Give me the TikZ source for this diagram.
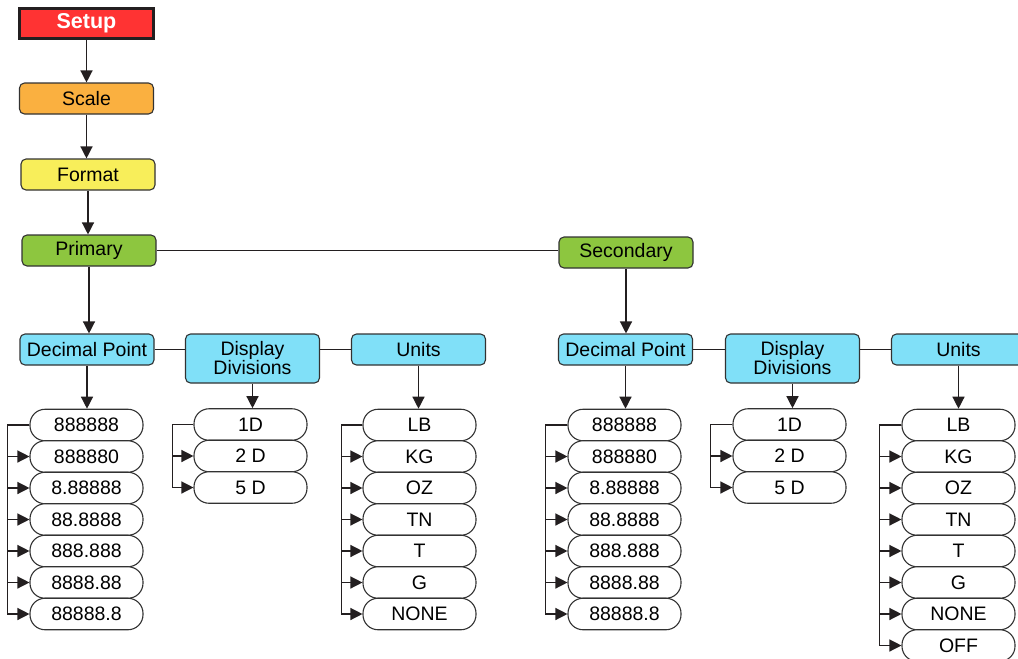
\documentclass[tikz,border=0pt]{standalone}
\usepackage{fontspec}
\setmainfont{Liberation Sans}
\usetikzlibrary{arrows.meta}
\definecolor{setupred}{RGB}{255,51,51}
\definecolor{scaleorange}{RGB}{250,176,64}
\definecolor{formatyellow}{RGB}{248,238,90}
\definecolor{leafgreen}{RGB}{141,198,63}
\definecolor{skycyan}{RGB}{128,224,248}
\definecolor{linegray}{RGB}{35,31,32}
\definecolor{boxgray}{RGB}{50,50,50}
\begin{document}
\begin{tikzpicture}[x=1pt,y=-1pt,
  font=\fontsize{19.5}{20}\selectfont,
  conn/.style={line width=1.3pt, draw=linegray},
  arr/.style={conn, -{Triangle[length=12pt,width=12pt]}},
  hbox/.style={draw=boxgray, line width=1.1pt, rounded corners=5pt, minimum width=134pt, minimum height=31pt, inner sep=0pt, align=center},
  pill/.style={draw=boxgray, line width=1.1pt, rounded corners=15pt, fill=white, minimum width=113pt, minimum height=31.5pt, inner sep=0pt}]
\useasboundingbox (0,0) rectangle (1018,659);
\clip (0,0) rectangle (1018,659);

% top chain
\node[draw=linegray, line width=2.5pt, fill=setupred, minimum width=134pt, minimum height=30pt, inner sep=0pt, text=white, font=\fontsize{21.5}{22}\selectfont\bfseries] (setup) at (86.5,23.5) {Setup};
\node[hbox, fill=scaleorange] (scale) at (86.5,98.5) {Scale};
\node[hbox, fill=formatyellow] (format) at (88,174.5) {Format};
\node[hbox, fill=leafgreen] (primary) at (89,250.5) {Primary};
\node[hbox, fill=leafgreen] (secondary) at (626,252.5) {Secondary};

\draw[arr] (setup.south) -- (setup.south |- scale.north);
\draw[arr] (scale.south) -- (scale.south |- format.north);
\draw[arr] (format.south) -- (format.south |- primary.north);
\draw[conn] (primary.east) -- (primary.east -| secondary.west);

% primary branch headers
\node[hbox, fill=skycyan] (dpA) at (87,349.5) {Decimal Point};
\node[hbox, fill=skycyan, minimum height=49pt] (ddA) at (252.5,358.5) {Display\\[-1pt]Divisions};
\node[hbox, fill=skycyan] (unA) at (418.5,349.5) {Units};
\draw[conn] (dpA.east) -- (dpA.east -| ddA.west);
\draw[conn] (ddA.west |- dpA.east) ++(135,0) -- (unA.west);
\draw[arr] (primary.south) -- (primary.south |- dpA.north);

% secondary branch headers
\node[hbox, fill=skycyan] (dpB) at (625.5,349.5) {Decimal Point};
\node[hbox, fill=skycyan, minimum height=49pt] (ddB) at (792.5,358.5) {Display\\[-1pt]Divisions};
\node[hbox, fill=skycyan] (unB) at (958.5,349.5) {Units};
\draw[conn] (dpB.east) -- (dpB.east -| ddB.west);
\draw[conn] (ddB.west |- dpB.east) ++(135,0) -- (unB.west);
\draw[arr] (secondary.south) -- (secondary.south |- dpB.north);

% primary lists
\foreach \t [count=\i] in {888888,888880,8.88888,88.8888,888.888,8888.88,88888.8}
  \node[pill] (pa\i) at (86.5,{425+31.5*(\i-1)}) {\t};
\foreach \t [count=\i] in {1D,2 D,5 D}
  \node[pill] (pb\i) at (250.5,{424.5+31.5*(\i-1)}) {\t};
\foreach \t [count=\i] in {LB,KG,OZ,TN,T,G,NONE}
  \node[pill] (pc\i) at (419.5,{425+31.5*(\i-1)}) {\t};

% secondary lists
\foreach \t [count=\i] in {888888,888880,8.88888,88.8888,888.888,8888.88,88888.8}
  \node[pill] (sa\i) at (624.5,{425+31.5*(\i-1)}) {\t};
\foreach \t [count=\i] in {1D,2 D,5 D}
  \node[pill] (sb\i) at (789.5,{424.5+31.5*(\i-1)}) {\t};
\foreach \t [count=\i] in {LB,KG,OZ,TN,T,G,NONE,OFF}
  \node[pill] (sc\i) at (958.5,{425+31.5*(\i-1)}) {\t};

% arrows from headers to lists
\draw[arr] (dpA.south) -- (dpA.south |- pa1.north);
\draw[arr] (ddA.south) -- (ddA.south |- pb1.north);
\draw[arr] (unA.south) -- (unA.south |- pc1.north);
\draw[arr] (dpB.south) -- (dpB.south |- sa1.north);
\draw[arr] (ddB.south) -- (ddB.south |- sb1.north);
\draw[arr] (unB.south) -- (unB.south |- sc1.north);

% brackets
\foreach \i in {2,...,7} \draw[arr] (pa1.west) -- ++(-22,0) |- (pa\i.west);
\foreach \i in {2,3} \draw[arr] (pb1.west) -- ++(-21,0) |- (pb\i.west);
\foreach \i in {2,...,7} \draw[arr] (pc1.west) -- ++(-21,0) |- (pc\i.west);
\foreach \i in {2,...,7} \draw[arr] (sa1.west) -- ++(-22,0) |- (sa\i.west);
\foreach \i in {2,3} \draw[arr] (sb1.west) -- ++(-22,0) |- (sb\i.west);
\foreach \i in {2,...,8} \draw[arr] (sc1.west) -- ++(-22,0) |- (sc\i.west);
\end{tikzpicture}
\end{document}
